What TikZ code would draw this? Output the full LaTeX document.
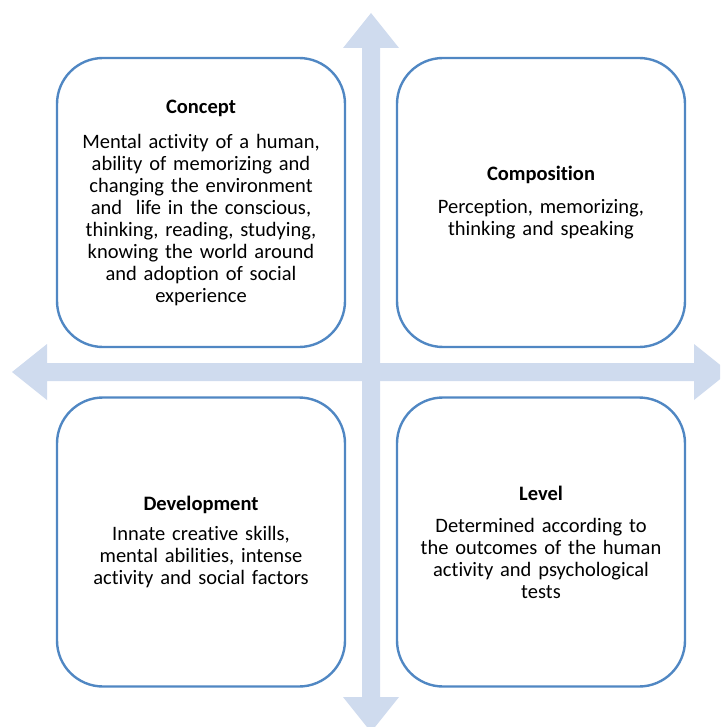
\documentclass[tikz,border=0pt]{standalone}
\usepackage{fontspec}
\setmainfont{Carlito}[Ligatures=NoCommon]
\definecolor{boxblue}{RGB}{80,135,195}
\definecolor{arrowblue}{RGB}{207,219,238}

\begin{document}
\begin{tikzpicture}[
    x=1pt, y=-1pt,
    quad/.style={rectangle,draw=boxblue,line width=2.4pt,fill=white,rounded corners=46pt,
        minimum width=288pt,minimum height=289pt,text width=276pt,align=center,
        font=\fontsize{20.5}{22}\selectfont},
    cross/.style={fill=arrowblue,draw=none}
]

\useasboundingbox (0,0) rectangle (720,727);
\clip (0,0) rectangle (720,727);

\fill[cross] (12,372)--(47,344)--(47,363)--(694,363)--(694,344)--(729,372)
    --(694,400)--(694,381)--(47,381)--(47,400)--cycle;
\fill[cross] (371,13)--(399,48)--(380,48)--(380,697)--(399,697)--(371,732)
    --(343,697)--(362,697)--(362,48)--(343,48)--cycle;

\node[quad] (concept) at (201,202.5) {\textbf{Concept}\\[13pt]
    Mental activity of a human,\\ ability of memorizing and\\ changing the environment\\
    and~ life in the conscious,\\ thinking, reading, studying,\\ knowing the world around\\
    and adoption of social\\ experience};
\node[quad] (composition) at (541,202.5) {\textbf{Composition}\\[11pt]
    Perception, memorizing,\\ thinking and speaking};
\node[quad] (development) at (201,542) {\textbf{Development}\\[8pt]
    Innate creative skills,\\ mental abilities, intense\\ activity and social factors};
\node[quad] (level) at (541,542) {\textbf{Level}\\[10pt]
    Determined according to\\ the outcomes of the human\\ activity and psychological\\ tests};

\end{tikzpicture}
\end{document}
